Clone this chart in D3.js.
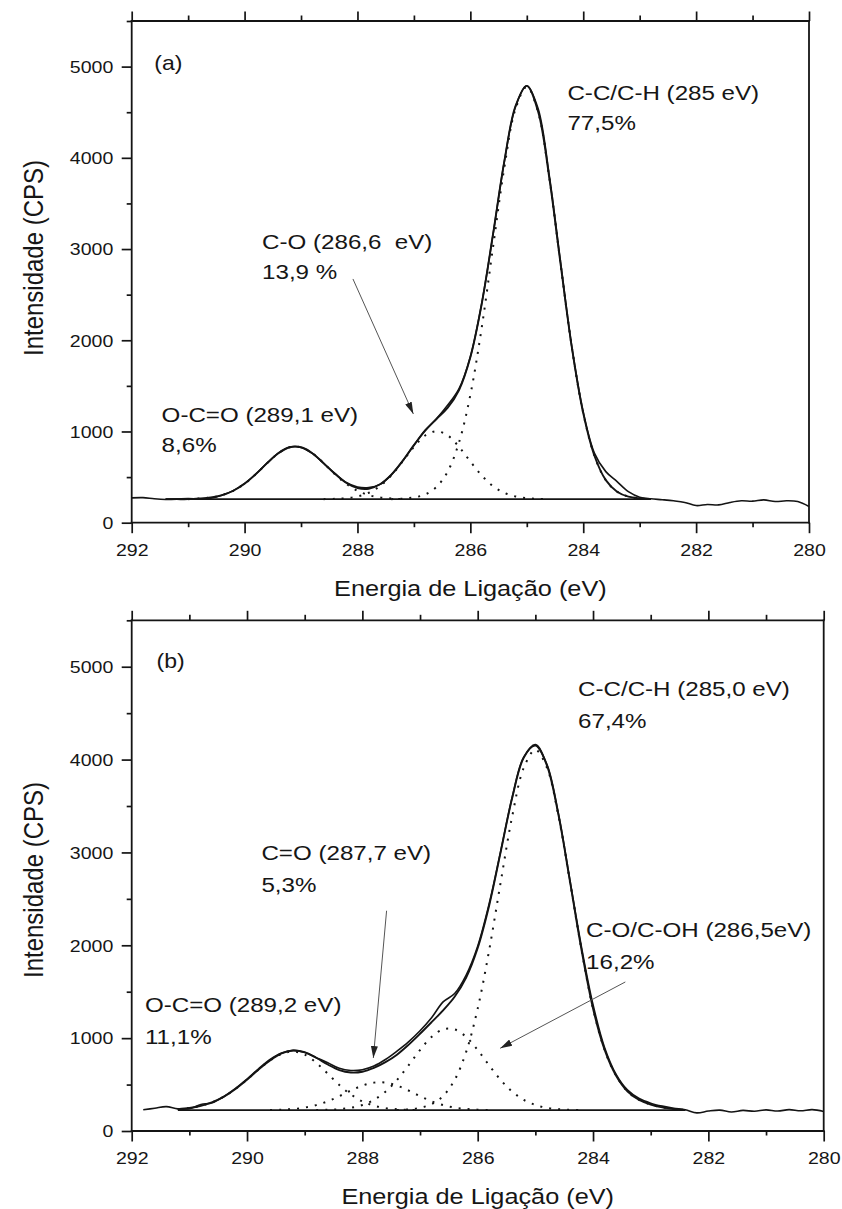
<!DOCTYPE html>
<html>
<head>
<meta charset="utf-8">
<script src="https://cdn.jsdelivr.net/npm/d3@7"></script>
<style>
  body { margin: 0; background: #fff; }
  svg { display: block; }
  text { font-family: "Liberation Sans", Arial, Helvetica, sans-serif; fill: #161616; }
</style>
</head>
<body>
<svg id="chart" width="842" height="1209"></svg>
<script>
// ---------------- Axis ticks ----------------
const xMajorTicks = [292, 290, 288, 286, 284, 282, 280];
const xMinorTicks = [291, 289, 287, 285, 283, 281];
const yMajorTicks = [0, 1000, 2000, 3000, 4000, 5000];
const yMinorTicks = [500, 1500, 2500, 3500, 4500, 5500];
const xTitle = "Energia de Ligação (eV)";
const yTitle = "Intensidade (CPS)";

// ---------------- Sample (a): C1s spectrum ----------------
const energyA = [292.0,291.8,291.6,291.4,291.2,291.0,290.8,290.6,290.4,290.2,
                 290.0,289.8,289.6,289.4,289.2,289.0,288.8,288.6,288.4,288.2,
                 288.0,287.8,287.6,287.4,287.2,287.0,286.8,286.6,286.4,286.2,
                 286.0,285.8,285.6,285.4,285.2,285.0,284.8,284.6,284.4,284.2,
                 284.0,283.8,283.6,283.4,283.2,283.0,282.8,282.6,282.4,282.2,
                 282.0,281.8,281.6,281.4,281.2,281.0,280.8,280.6,280.4,280.2,280.0];
const countsA = [272,275,262,255,258,266,258,268,300,352,
                 430,535,655,765,830,825,760,650,540,440,
                 392,385,420,525,675,850,1015,1140,1290,1470,
                 1820,2400,3150,3950,4560,4790,4540,3800,2850,1920,
                 1215,760,560,450,340,280,262,252,240,222,
                 188,200,195,222,240,236,250,232,240,232,178];

// fitted components (CPS above the background), on the fit grid
const fitEnergyA = [291.4,291.2,291.0,290.8,290.6,290.4,290.2,290.0,289.8,289.6,
                    289.4,289.2,289.0,288.8,288.6,288.4,288.2,288.0,287.8,287.6,
                    287.4,287.2,287.0,286.8,286.6,286.4,286.2,286.0,285.8,285.6,
                    285.4,285.2,285.0,284.8,284.6,284.4,284.2,284.0,283.8,283.6,
                    283.4,283.2,283.0,282.8];
const backgroundA = 258;
const fitCCA  = [0,0,0,0,0,0,0,0,0,0, 0,0,0,0,0,0,0,0,0,0,
                 0,6,19,52,134,305,624,1143,1875,2755,
                 3627,4278,4520,4245,3517,2571,1657,943,473,209,
                 82,28,9,2];
const fitCOA  = [0,0,0,0,0,0,0,0,0,0, 0,0,0,0,0,4,11,30,70,144,
                 261,413,573,698,745,698,573,413,261,144,
                 70,30,11,4,0,0,0,0,0,0, 0,0,0,0];
const fitOCOA = [0,0,0,7,19,44,92,169,274,395,
                 504,569,569,504,395,274,169,92,44,19,
                 7,0,0,0,0,0,0,0,0,0, 0,0,0,0,0,0,0,0,0,0, 0,0,0,0];
const labelsA = ["C-C/C-H (285 eV)", "C-O (286,6  eV)", "O-C=O (289,1 eV)"];
const sharesA = ["77,5%", "13,9 %", "8,6%"];

// ---------------- Sample (b): C1s spectrum ----------------
const energyB = [291.8,291.6,291.4,291.2,291.0,290.8,290.6,290.4,290.2,290.0,
                 289.8,289.6,289.4,289.2,289.0,288.8,288.6,288.4,288.2,288.0,
                 287.8,287.6,287.4,287.2,287.0,286.8,286.6,286.4,286.2,286.0,
                 285.8,285.6,285.4,285.2,285.0,284.8,284.6,284.4,284.2,284.0,
                 283.8,283.6,283.4,283.2,283.0,282.8,282.6,282.4,282.2,282.0,
                 281.8,281.6,281.4,281.2,281.0,280.8,280.6,280.4,280.2,280.0];
const countsB = [228,245,262,238,240,285,305,372,458,560,
                 670,770,840,868,845,790,735,675,652,660,
                 700,770,860,960,1080,1220,1390,1480,1680,1990,
                 2450,3020,3600,4030,4150,3950,3420,2700,1980,1360,
                 900,610,440,350,300,268,245,228,195,215,
                 225,205,222,212,228,215,230,218,230,210];

const fitEnergyB = [291.2,291.0,290.8,290.6,290.4,290.2,290.0,289.8,289.6,289.4,
                    289.2,289.0,288.8,288.6,288.4,288.2,288.0,287.8,287.6,287.4,
                    287.2,287.0,286.8,286.6,286.4,286.2,286.0,285.8,285.6,285.4,
                    285.2,285.0,284.8,284.6,284.4,284.2,284.0,283.8,283.6,283.4,
                    283.2,283.0,282.8,282.6,282.4];
const backgroundB = 225;
const fitCCB  = [0,0,0,0,0,0,0,0,0,0, 0,0,0,0,0,0,0,0,0,0,
                 8,25,64,152,325,627,1094,1726,2460,3169,
                 3688,3880,3688,3169,2460,1726,1094,650,370,200,
                 110,60,30,12,0];
const fitCOHB = [0,0,0,0,0,0,0,0,0,0, 0,0,0,4,10,25,55,110,198,324,
                 481,647,788,869,869,788,647,481,324,198,
                 110,55,25,10,4,0,0,0,0,0, 0,0,0,0,0];
const fitC_OB = [0,0,0,0,0,0,0,0,0,5,
                 12,27,54,95,150,211,264,296,296,264,
                 211,150,95,54,27,12,5,0,0,0, 0,0,0,0,0,0,0,0,0,0, 0,0,0,0,0];
const fitOCOB = [11,23,46,86,145,228,328,437,535,605,
                 630,598,510,392,271,169,94,48,22,9,
                 3,0,0,0,0,0,0,0,0,0, 0,0,0,0,0,0,0,0,0,0, 0,0,0,0,0];
const labelsB = ["C-C/C-H (285,0 eV)", "C-O/C-OH (286,5eV)", "C=O (287,7 eV)", "O-C=O (289,2 eV)"];
const sharesB = ["67,4%", "16,2%", "5,3%", "11,1%"];

// ---------------- Layout ----------------
const INK = "#141414";
const SX = 1.15;            // horizontal stretch of the lettering
const panels = [
  {
    tag: "(a)", tagAt: [291.6, 4968],
    box: { left: 131.7, right: 809, top: 21, bottom: 522.7 },
    yTitleY: 258,
    energy: energyA, counts: countsA,
    fitEnergy: fitEnergyA, background: backgroundA,
    components: [fitCCA, fitCOA, fitOCOA],
    notes: [
      { lines: [labelsA[0], sharesA[0]], at: [284.28, 4635] },
      { lines: [labelsA[1], sharesA[1]], at: [289.69, 3001] },
      { lines: [labelsA[2], sharesA[2]], at: [291.47, 1101] }
    ],
    arrows: [ { from: [288.08, 2672], to: [287.01, 1192] } ],
    lineGap: 30
  },
  {
    tag: "(b)", tagAt: [291.57, 4986],
    box: { left: 131.7, right: 823.7, top: 620.3, bottom: 1131 },
    yTitleY: 880,
    energy: energyB, counts: countsB,
    fitEnergy: fitEnergyB, background: backgroundB,
    components: [fitCCB, fitCOHB, fitC_OB, fitOCOB],
    notes: [
      { lines: [labelsB[0], sharesB[0]], at: [284.26, 4688] },
      { lines: [labelsB[1], sharesB[1]], at: [284.12, 2089] },
      { lines: [labelsB[2], sharesB[2]], at: [289.75, 2918] },
      { lines: [labelsB[3], sharesB[3]], at: [291.77, 1281] }
    ],
    arrows: [
      { from: [287.58, 2372], to: [287.81, 786] },
      { from: [283.44, 1605], to: [285.61, 891] }
    ],
    lineGap: 32
  }
];

const svg = d3.select("#chart");

// arrowhead
svg.append("defs").append("marker")
  .attr("id", "head").attr("markerUnits", "userSpaceOnUse")
  .attr("viewBox", "0 0 12 7").attr("markerWidth", 12).attr("markerHeight", 7)
  .attr("refX", 12).attr("refY", 3.5).attr("orient", "auto")
  .append("path").attr("d", "M0,0 L12,3.5 L0,7 Z").attr("fill", "#222");

function stretched(g, x, y, str, size, anchor) {
  return g.append("text")
    .attr("transform", `translate(${x},${y}) scale(${SX},1)`)
    .attr("text-anchor", anchor || "start")
    .style("font-size", size + "px")
    .style("white-space", "pre")
    .text(str);
}

function styleAxis(a, labels) {
  a.attr("font-family", null).attr("font-size", null).attr("color", INK);
  a.select(".domain").remove();
  a.selectAll(".tick line").attr("stroke-width", 1.7);
  if (!labels) a.selectAll(".tick text").remove();
}

panels.forEach(p => {
  const b = p.box;
  const x = d3.scaleLinear().domain([292, 280]).range([b.left, b.right]);
  const y = d3.scaleLinear().domain([0, 5500]).range([b.bottom, b.top]);
  const g = svg.append("g");

  // ---- fitted components (dotted) ----
  const curve = d3.curveCatmullRom.alpha(0.5);
  p.components.forEach(comp => {
    const pts = p.fitEnergy.map((e, i) => ({
      e, v: p.background + comp[i],
      show: comp[i] > 0 || comp[i - 1] > 0 || comp[i + 1] > 0
    }));
    g.append("path")
      .attr("d", d3.line().defined(d => d.show).x(d => x(d.e)).y(d => y(d.v)).curve(curve)(pts))
      .attr("fill", "none").attr("stroke", INK).attr("stroke-width", 2)
      .attr("stroke-dasharray", "2,7");
  });

  // ---- background line ----
  const bgEnds = d3.extent(p.fitEnergy);
  g.append("line")
    .attr("x1", x(bgEnds[1])).attr("x2", x(bgEnds[0]))
    .attr("y1", y(p.background)).attr("y2", y(p.background))
    .attr("stroke", INK).attr("stroke-width", 1.6);

  // ---- measured spectrum ----
  const raw = p.energy.map((e, i) => [e, p.counts[i]]);
  g.append("path")
    .attr("d", d3.line().x(d => x(d[0])).y(d => y(d[1])).curve(curve)(raw))
    .attr("fill", "none").attr("stroke", INK).attr("stroke-width", 1.6);

  // ---- fit envelope: background + sum of components ----
  const env = p.fitEnergy.map((e, i) =>
    [e, p.background + d3.sum(p.components, c => c[i])]);
  g.append("path")
    .attr("d", d3.line().x(d => x(d[0])).y(d => y(d[1])).curve(curve)(env))
    .attr("fill", "none").attr("stroke", INK).attr("stroke-width", 1.9);

  // ---- axes ----
  g.append("g").attr("transform", `translate(0,${b.bottom})`)
    .call(d3.axisBottom(x).tickValues(xMajorTicks).tickSize(10.5).tickFormat(d3.format("d")))
    .call(a => styleAxis(a, true))
    .call(a => a.selectAll(".tick text")
      .attr("y", 33).attr("dy", null)
      .attr("transform", `scale(${SX},1)`)
      .style("font-size", "17px"));
  g.append("g").attr("transform", `translate(0,${b.bottom})`)
    .call(d3.axisBottom(x).tickValues(xMinorTicks).tickSize(4.5))
    .call(a => styleAxis(a, false));
  g.append("g").attr("transform", `translate(0,${b.top})`)
    .call(d3.axisTop(x).tickValues(xMajorTicks).tickSize(9.5))
    .call(a => styleAxis(a, false));
  g.append("g").attr("transform", `translate(0,${b.top})`)
    .call(d3.axisTop(x).tickValues(xMinorTicks).tickSize(5.5))
    .call(a => styleAxis(a, false));
  g.append("g").attr("transform", `translate(${b.left},0)`)
    .call(d3.axisLeft(y).tickValues(yMajorTicks).tickSize(10).tickFormat(d3.format("d")))
    .call(a => styleAxis(a, true))
    .call(a => a.selectAll(".tick text")
      .attr("x", -18.4 / SX).attr("dy", "0.34em")
      .attr("transform", `scale(${SX},1)`)
      .style("font-size", "17px"));
  g.append("g").attr("transform", `translate(${b.left},0)`)
    .call(d3.axisLeft(y).tickValues(yMinorTicks).tickSize(5))
    .call(a => styleAxis(a, false));

  // frame
  const frame = [
    [b.left, b.top, b.left, b.bottom],
    [b.left, b.bottom, b.right, b.bottom],
    [b.left, b.top, b.right, b.top],
    [b.right, b.top, b.right, b.bottom]
  ];
  g.selectAll(null).data(frame).join("line")
    .attr("x1", d => d[0]).attr("y1", d => d[1])
    .attr("x2", d => d[2]).attr("y2", d => d[3])
    .attr("stroke", INK).attr("stroke-width", 1.8)
    .attr("stroke-linecap", "square");

  // ---- axis titles ----
  stretched(g, (b.left + b.right) / 2, b.bottom + 73, xTitle, 22, "middle");
  g.append("text")
    .attr("transform", `translate(43,${p.yTitleY}) scale(${SX},1) rotate(-90)`)
    .attr("text-anchor", "middle")
    .style("font-size", "24px")
    .text(yTitle);

  // ---- panel tag and peak annotations ----
  stretched(g, x(p.tagAt[0]), y(p.tagAt[1]), p.tag, 20);
  p.notes.forEach(n => {
    n.lines.forEach((ln, k) =>
      stretched(g, x(n.at[0]), y(n.at[1]) + k * p.lineGap, ln, 21));
  });
  p.arrows.forEach(a => {
    g.append("line")
      .attr("x1", x(a.from[0])).attr("y1", y(a.from[1]))
      .attr("x2", x(a.to[0])).attr("y2", y(a.to[1]))
      .attr("stroke", "#555").attr("stroke-width", 1)
      .attr("marker-end", "url(#head)");
  });
});
</script>
</body>
</html>
